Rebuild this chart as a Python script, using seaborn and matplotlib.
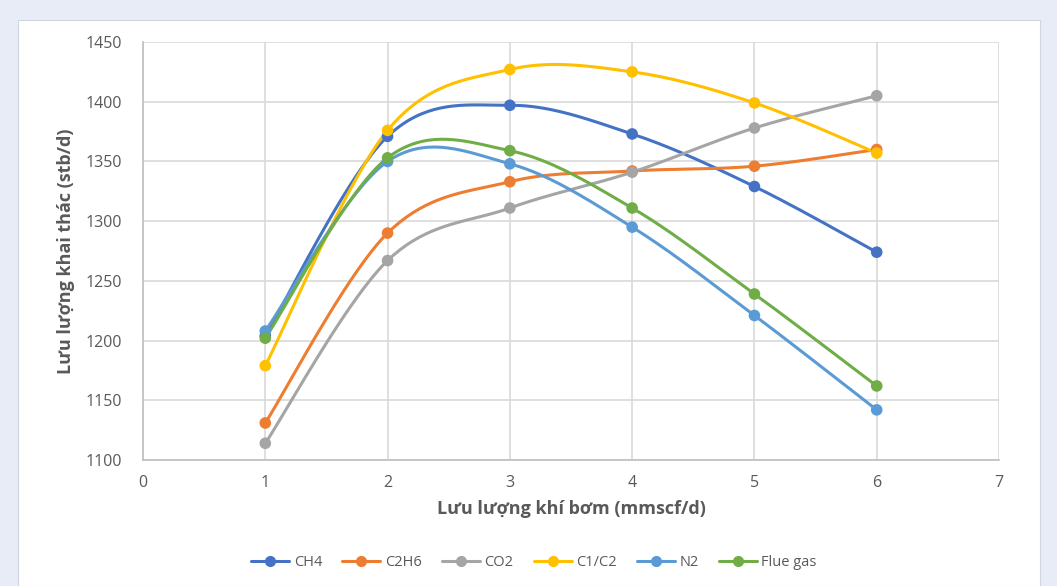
import numpy as np
import pandas as pd
import seaborn as sns
import matplotlib.pyplot as plt
from matplotlib.patches import Rectangle
from matplotlib.lines import Line2D

# du lieu doc tu bieu do
x_vals = [1, 2, 3, 4, 5, 6]
ch4 = [1204, 1371, 1397, 1373, 1329, 1274]
c2h6 = [1131, 1290, 1333, 1342, 1346, 1360]
co2 = [1114, 1267, 1311, 1341, 1378, 1405]
c1c2 = [1179, 1376, 1427, 1425, 1399, 1357]
n2 = [1208, 1350, 1348, 1295, 1221, 1142]
flue_gas = [1202, 1353, 1359, 1311, 1239, 1162]

series_names = ['CH4', 'C2H6', 'CO2', 'C1/C2', 'N2', 'Flue gas']
series_values = [ch4, c2h6, co2, c1c2, n2, flue_gas]
colors = ['#4472C4', '#ED7D31', '#A5A5A5', '#FFC000', '#5B9BD5', '#70AD47']


def smooth(xs, ys, n=40):
    # duong cong kieu Excel (Catmull-Rom / Bezier)
    xs = np.asarray(xs, float)
    ys = np.asarray(ys, float)
    P = np.column_stack([xs, ys])
    out = []
    for i in range(len(P) - 1):
        p0 = P[i - 1] if i > 0 else P[i]
        p1, p2 = P[i], P[i + 1]
        p3 = P[i + 2] if i + 2 < len(P) else P[i + 1]
        c1 = p1 + (p2 - p0) / 6
        c2 = p2 - (p3 - p1) / 6
        t = np.linspace(0, 1, n)[:, None]
        seg = (1 - t) ** 3 * p1 + 3 * (1 - t) ** 2 * t * c1 + 3 * (1 - t) * t ** 2 * c2 + t ** 3 * p2
        out.append(seg if i == 0 else seg[1:])
    out = np.vstack(out)
    return out[:, 0], out[:, 1]


rows = []
pts = []
for name, vals in zip(series_names, series_values):
    sx, sy = smooth(x_vals, vals)
    for k in range(len(sx)):
        rows.append({'x': sx[k], 'y': sy[k], 'gas': name, 'order': k})
    for xv, yv in zip(x_vals, vals):
        pts.append({'x': xv, 'y': yv, 'gas': name})
curves = pd.DataFrame(rows)
points = pd.DataFrame(pts)
palette = dict(zip(series_names, colors))

sns.set_style('white')
plt.rcParams['font.family'] = ['Open Sans', 'DejaVu Sans']

fig = plt.figure(figsize=(10.57, 5.86), dpi=100, facecolor='#E7ECF6')
panel = Rectangle((18 / 1057, 0), (1040 - 18) / 1057, 1 - 20 / 586,
                  transform=fig.transFigure, facecolor='white',
                  edgecolor='#D0D5DE', lw=0.8, zorder=-5)
fig.add_artist(panel)
ax = fig.add_axes([143 / 1057, 1 - 460 / 586, (999 - 143) / 1057, (460 - 42) / 586])
ax.set_zorder(2)
ax.set_facecolor('none')

sns.lineplot(data=curves, x='x', y='y', hue='gas', palette=palette, sort=False,
             estimator=None, units='gas', lw=2.2, legend=False, ax=ax, zorder=3)
sns.scatterplot(data=points, x='x', y='y', hue='gas', palette=palette, s=70,
                edgecolor='none', legend=False, ax=ax, zorder=4)

ax.set_xlim(0, 7)
ax.set_ylim(1100, 1450)
ax.set_xticks(range(0, 8))
ax.set_yticks(range(1100, 1451, 50))
ax.grid(True, color='#D9D9D9', lw=1.2)
ax.set_axisbelow(True)
for s in ['top', 'right']:
    ax.spines[s].set_visible(False)
for s in ['left', 'bottom']:
    ax.spines[s].set_color('#BFBFBF')
    ax.spines[s].set_linewidth(1.2)
ax.tick_params(axis='both', length=0, labelsize=11.5, labelcolor='#595959')
ax.tick_params(axis='y', pad=15)
ax.tick_params(axis='x', pad=11)

ax.set_xlabel('Lưu lượng khí bơm (mmscf/d)', fontsize=13, fontweight='bold',
              color='#595959', labelpad=6)
ax.set_ylabel('Lưu lượng khai thác (stb/d)', fontsize=13, fontweight='bold',
              color='#595959', labelpad=8)

handles = [Line2D([0], [0], color=c, lw=2.2, marker='o', markersize=7) for c in colors]
fig.legend(handles, series_names, loc='center', bbox_to_anchor=(534 / 1057, 1 - 563 / 586),
           ncol=6, frameon=False, fontsize=10.5, labelcolor='#595959',
           handlelength=2.6, columnspacing=1.4, handletextpad=0.3)

fig.savefig('out.png', dpi=100, facecolor=fig.get_facecolor())
